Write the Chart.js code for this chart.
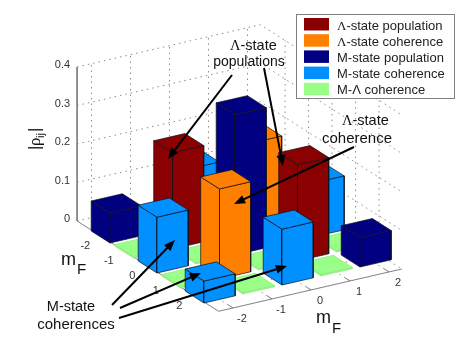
<!DOCTYPE html>
<html>
<head>
<meta charset="utf-8">
<script src="https://cdn.jsdelivr.net/npm/chart.js@4"></script>
<style>
  html, body { margin: 0; padding: 0; background: #fff; }
  canvas { display: block; }
</style>
</head>
<body>
<canvas id="bar3d" width="464" height="349"></canvas>
<script>
// density matrix elements, as [row mF, column mF, |rho|]
const mFTicks = [-2, -1, 0, 1, 2];
const rhoTicks = [0, 0.1, 0.2, 0.3, 0.4];
const lambdaPopulation = [[-1, -1, 0.25], [1, 1, 0.25]];
const lambdaCoherence = [[-1, 1, 0.228], [1, -1, 0.234]];
const mPopulation = [[-2, -2, 0.078], [0, 0, 0.364], [2, 2, 0.076]];
const mCoherence = [[-2, 0, 0.145], [0, -2, 0.145], [0, 2, 0.14], [2, 0, 0.145], [-2, 2, 0.057], [2, -2, 0.057]];
const mLambdaCoherence = [
  [-2, -1, 0.004], [-2, 1, 0.004], [-1, -2, 0.004], [-1, 0, 0.004], [-1, 2, 0.004], [0, -1, 0.004],
  [0, 1, 0.004], [1, -2, 0.004], [1, 0, 0.004], [1, 2, 0.004], [2, -1, 0.004], [2, 1, 0.004]
];
const legendNames = ['-state population', '-state coherence', 'M-state population', 'M-state coherence', 'M-\u039b coherence'];

const colors = ['#8b0000', '#ff8000', '#000080', '#0090ff', '#99ff88'];
const groups = [lambdaPopulation, lambdaCoherence, mPopulation, mCoherence, mLambdaCoherence];

// the view of the 3d box on the page
const center = { x: 241.2, y: 245.4 };
const rowStep = { x: 23.5, y: 15 };
const colStep = { x: 39, y: -9 };
const zStep = 385;
const barWidth = 0.8;
const rowLim = [-3.05, 2.97];
const colLim = [-2.37, 2.33];

function project(r, c, z) {
  return {
    x: center.x + rowStep.x * r + colStep.x * c,
    y: center.y + rowStep.y * r + colStep.y * c - zStep * z
  };
}

const datasets = [];

function addLine(points, color, dash) {
  datasets.push({
    data: points, showLine: true, fill: false, pointRadius: 0,
    borderColor: color, borderWidth: 1, borderDash: dash || [], tension: 0
  });
}

function addFace(points, color) {
  datasets.push({
    data: points.concat([points[0]]), showLine: true, fill: 'shape', backgroundColor: color,
    pointRadius: 0, borderColor: color === colors[4] ? '#8fe880' : '#10101a', borderWidth: 0.7, tension: 0
  });
}

// grid on the floor and the two back walls
const gridColor = '#8c8c8c';
const dots = [1.5, 4];
rhoTicks.forEach(z => {
  addLine([project(rowLim[0], colLim[0], z), project(rowLim[0], colLim[1], z), project(rowLim[1], colLim[1], z)], gridColor, dots);
});
mFTicks.forEach(c => {
  addLine([project(rowLim[1], c, 0), project(rowLim[0], c, 0), project(rowLim[0], c, 0.4)], gridColor, dots);
});
mFTicks.forEach(r => {
  addLine([project(r, colLim[0], 0), project(r, colLim[1], 0), project(r, colLim[1], 0.4)], gridColor, dots);
});

// solid axis lines and tick marks
const axisColor = '#808080';
addLine([project(rowLim[0], colLim[0], 0.4), project(rowLim[0], colLim[0], 0), project(rowLim[1], colLim[0], 0), project(rowLim[1], colLim[1], 0)], axisColor);
mFTicks.forEach(r => addLine([project(r, colLim[0], 0), project(r, colLim[0] + 0.15, 0)], axisColor));
mFTicks.forEach(c => addLine([project(rowLim[1], c, 0), project(rowLim[1] - 0.2, c, 0)], axisColor));

// bars, back to front
const bars = [];
groups.forEach((group, g) => group.forEach(b => bars.push({ r: b[0], c: b[1], h: b[2], color: colors[g] })));
bars.sort((a, b) => (a.r - a.c) - (b.r - b.c));
bars.forEach(b => {
  const d = barWidth / 2;
  const top = [project(b.r - d, b.c - d, b.h), project(b.r - d, b.c + d, b.h), project(b.r + d, b.c + d, b.h), project(b.r + d, b.c - d, b.h)];
  const left = [project(b.r - d, b.c - d, b.h), project(b.r + d, b.c - d, b.h), project(b.r + d, b.c - d, 0), project(b.r - d, b.c - d, 0)];
  const right = [project(b.r + d, b.c - d, b.h), project(b.r + d, b.c + d, b.h), project(b.r + d, b.c + d, 0), project(b.r + d, b.c - d, 0)];
  addFace(left, b.color);
  addFace(right, b.color);
  addFace(top, b.color);
});

// first dataset is painted last, so number them from the back
datasets.forEach((d, i) => { d.order = datasets.length - i; });

const arrows = [
  [232, 75, 168, 159], [264, 68, 283, 166], [354, 147, 234, 204],
  [112, 305, 175, 240], [120, 308, 201, 273], [119, 318, 287, 266]
];
const notes = [
  ['populations', 249, 66, 14], ['coherence', 357, 143, 15],
  ['M-state', 71, 311, 14.5], ['coherences', 76, 329, 15]
];

function lambdaNote(ctx, x, y, size) {
  ctx.textAlign = 'left';
  ctx.font = size + 'px "Liberation Serif"';
  const w = ctx.measureText('\u039b').width;
  ctx.fillText('\u039b', x, y);
  ctx.font = size + 'px "Liberation Sans"';
  ctx.fillText('-state', x + w, y);
  return w;
}

const decorations = {
  id: 'decorations',
  afterDraw(chart) {
    const ctx = chart.ctx;
    ctx.save();

    // tick labels
    ctx.fillStyle = '#333';
    ctx.font = '11px "Liberation Sans"';
    ctx.textBaseline = 'middle';
    ctx.textAlign = 'right';
    rhoTicks.forEach(z => {
      const p = project(rowLim[0], colLim[0], z);
      ctx.fillText(String(z), p.x - 7, p.y - 2);
    });
    ctx.textAlign = 'center';
    mFTicks.forEach(r => {
      const p = project(r, colLim[0], 0);
      ctx.fillText(String(r), p.x - 16.5, p.y + 9);
    });
    mFTicks.forEach(c => {
      const p = project(rowLim[1], c, 0);
      ctx.fillText(String(c), p.x + 9, p.y + 11.5);
    });
    ctx.textBaseline = 'alphabetic';

    // axis titles
    ctx.fillStyle = '#111';
    ctx.textAlign = 'left';
    ctx.font = '18px "Liberation Sans"';
    ctx.fillText('m', 61, 265);
    ctx.fillText('m', 316, 323);
    ctx.font = '15px "Liberation Sans"';
    ctx.fillText('F', 77, 274);
    ctx.fillText('F', 332, 333);

    ctx.save();
    ctx.translate(40, 150);
    ctx.rotate(-Math.PI / 2);
    ctx.font = '17px "Liberation Sans"';
    ctx.fillText('|', 0, 0);
    ctx.font = '17px "Liberation Serif"';
    ctx.fillText('\u03c1', 4, 0);
    ctx.font = '11px "Liberation Sans"';
    ctx.fillText('ij', 12, 4);
    ctx.font = '17px "Liberation Sans"';
    ctx.fillText('|', 18, 0);
    ctx.restore();

    // arrows
    ctx.strokeStyle = '#000';
    ctx.fillStyle = '#000';
    ctx.lineWidth = 2;
    arrows.forEach(a => {
      const ang = Math.atan2(a[3] - a[1], a[2] - a[0]);
      ctx.beginPath();
      ctx.moveTo(a[0], a[1]);
      ctx.lineTo(a[2] - 6 * Math.cos(ang), a[3] - 6 * Math.sin(ang));
      ctx.stroke();
      ctx.beginPath();
      ctx.moveTo(a[2], a[3]);
      ctx.lineTo(a[2] - 12 * Math.cos(ang - 0.38), a[3] - 12 * Math.sin(ang - 0.38));
      ctx.lineTo(a[2] - 12 * Math.cos(ang + 0.38), a[3] - 12 * Math.sin(ang + 0.38));
      ctx.closePath();
      ctx.fill();
    });

    // notes
    ctx.textAlign = 'center';
    ctx.fillStyle = '#111';
    notes.forEach(n => {
      ctx.font = n[3] + 'px "Liberation Sans"';
      ctx.fillText(n[0], n[1], n[2]);
    });
    lambdaNote(ctx, 230, 50, 14.5);
    lambdaNote(ctx, 342, 125, 14.5);

    // legend
    ctx.fillStyle = '#fff';
    ctx.strokeStyle = '#808080';
    ctx.lineWidth = 1;
    ctx.fillRect(296.5, 14.5, 158, 84);
    ctx.strokeRect(296.5, 14.5, 158, 84);
    legendNames.forEach((name, i) => {
      const y = 18 + i * 16.2;
      ctx.fillStyle = colors[i];
      ctx.fillRect(304, y, 25, 12.5);
      ctx.fillStyle = '#222';
      ctx.font = '13px "Liberation Sans"';
      ctx.textAlign = 'left';
      if (i < 2) {
        ctx.font = '13px "Liberation Serif"';
        const w = ctx.measureText('\u039b').width;
        ctx.fillText('\u039b', 337, y + 11.5);
        ctx.font = '13px "Liberation Sans"';
        ctx.fillText(name, 337 + w, y + 11.5);
      } else {
        ctx.fillText(name, 337, y + 11.5);
      }
    });
    ctx.restore();
  }
};

new Chart(document.getElementById('bar3d'), {
  type: 'scatter',
  data: { datasets },
  plugins: [decorations],
  options: {
    responsive: false,
    animation: false,
    layout: { padding: 0 },
    plugins: { legend: { display: false }, tooltip: { enabled: false } },
    scales: {
      x: { type: 'linear', min: 0, max: 464, display: false },
      y: { type: 'linear', min: 0, max: 349, reverse: true, display: false }
    }
  }
});
</script>
</body>
</html>
